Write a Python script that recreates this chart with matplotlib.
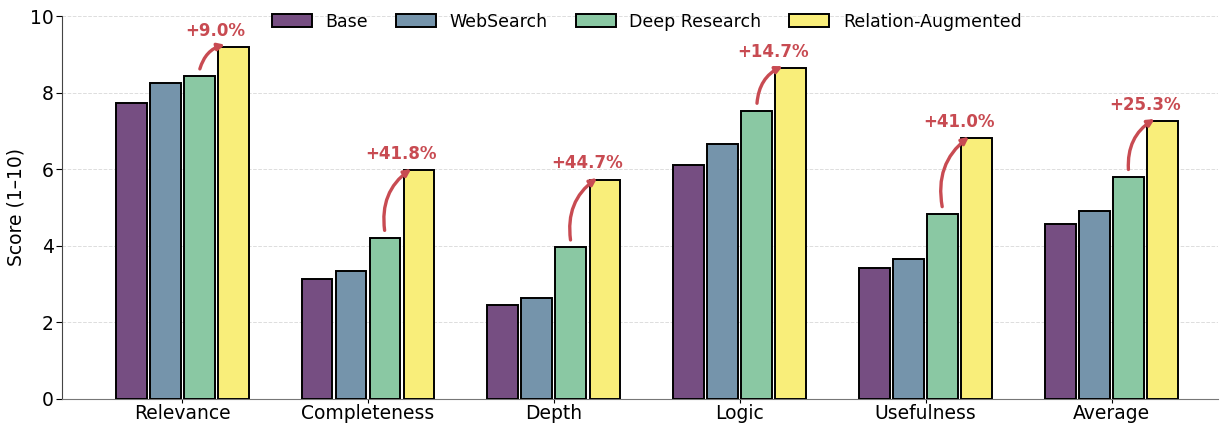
import matplotlib.pyplot as plt
import numpy as np

categories = ["Relevance", "Completeness", "Depth", "Logic", "Usefulness", "Average"]
methods = ["Base", "WebSearch", "Deep Research", "Relation-Augmented"]

base = [7.73, 3.13, 2.45, 6.11, 3.42, 4.57]
websearch = [8.25, 3.34, 2.64, 6.66, 3.66, 4.91]
deep_research = [8.43, 4.21, 3.96, 7.53, 4.83, 5.80]
relation_aug = [9.19, 5.97, 5.73, 8.64, 6.81, 7.27]

colors = ["#764e82", "#7594ab", "#8ac8a3", "#f9ee7a"]
arrow_color = "#c84b52"

fig = plt.figure(figsize=(12.2, 4.23), dpi=100)
ax = fig.add_axes([0.051, 0.057, 0.947, 0.905])

x = np.arange(len(categories))
pitch = 0.183
width = 0.166
series = [base, websearch, deep_research, relation_aug]
for i, (vals, name) in enumerate(zip(series, methods)):
    ax.bar(x + (i - 1.5) * pitch, vals, width, color=colors[i],
           edgecolor="black", linewidth=1.4, label=name, zorder=3)

# improvement arrows: Deep Research -> Relation-Augmented
for xi, dr, ra in zip(x, deep_research, relation_aug):
    pct = (ra / dr - 1) * 100
    x0 = xi + 0.5 * pitch
    x1 = xi + 1.5 * pitch - 0.03
    ax.annotate("", xy=(x1, ra + 0.08), xytext=(x0, dr + 0.12),
                arrowprops=dict(arrowstyle="-|>", color=arrow_color, lw=2.4,
                                mutation_scale=10,
                                connectionstyle="arc3,rad=-0.32"), zorder=4)
    ax.text(xi + 0.18, ra + 0.42, f"+{pct:.1f}%", ha="center", va="center",
            fontsize=12, fontweight="bold", color=arrow_color, zorder=5)

ax.set_xticks(x)
ax.set_xticklabels(categories, fontsize=13.5)
ax.set_ylim(0, 10)
ax.set_xlim(-0.645, 5.57)
ax.set_yticks([0, 2, 4, 6, 8, 10])
ax.tick_params(axis="y", labelsize=13.5, length=4, pad=2)
ax.tick_params(axis="x", length=3, pad=1)
ax.set_ylabel("Score (1–10)", fontsize=13.5, labelpad=3)
ax.grid(axis="y", linestyle="--", color="#dddddd", linewidth=0.7, zorder=0)
ax.spines["top"].set_visible(False)
ax.spines["right"].set_visible(False)
ax.spines["left"].set_color("#444444")
ax.spines["bottom"].set_color("#777777")

ax.legend(loc="upper center", bbox_to_anchor=(0.506, 1.05), ncol=4, frameon=False,
          fontsize=12.5, handlelength=2.3, columnspacing=1.6)

plt.savefig("out.png", dpi=100)
